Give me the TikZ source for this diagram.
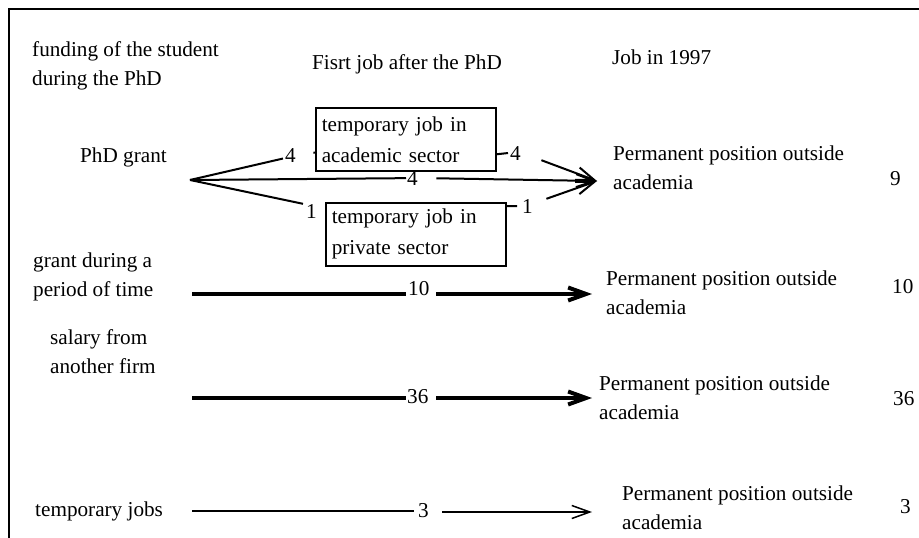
\documentclass[tikz,border=0pt]{standalone}
\usepackage{fontspec}
\setmainfont{Liberation Serif}
\usetikzlibrary{arrows.meta}
\begin{document}
\begin{tikzpicture}[x=1pt,y=-1pt,
  txt/.style={font=\fontsize{21.2}{29}\selectfont, inner sep=0pt, align=left, anchor=base west},
  jobbox/.style={draw, line width=1.6pt, font=\fontsize{21.2}{31}\selectfont,
    minimum width=180pt, minimum height=63pt, text width=168pt, align=left,
    inner xsep=6pt, inner ysep=0pt, anchor=north west},
  lbl/.style={font=\fontsize{21.2}{29}\selectfont, inner sep=0pt, anchor=base west,
    text width=#1, align=left},
  lbl/.default=30pt,
  flow/.style={line width=2pt},
  heavy/.style={line width=4pt},
  light/.style={line width=1.5pt},
  tip/.style={-{Straight Barb[length=18pt,width=13pt]}},
  frame/.style={line width=2pt}
]
\useasboundingbox (0,0) rectangle (919,538);
\coordinate (fa) at (9,538);
\coordinate (fb) at (9,9);
\coordinate (fc) at (919,9);
\draw[frame] (fa) -- (fb) -- (fc);

% headers (base anchor of a two-line node = baseline of its last line)
\node[txt] (h1) at (32,85) {funding of the student\\during the PhD};
\node[txt] (h2) at (312,69) {Fisrt job after the PhD};
\node[txt] (h3) at (612,64) {Job in 1997};

% left labels
\node[txt] (g1) at (80,162) {PhD grant};
\node[txt] (g2) at (33,296) {grant during a\\period of time};
\node[txt] (g3) at (50,373) {salary from\\another firm};
\node[txt] (g4) at (35,516) {temporary jobs};

% boxes
\node[jobbox] (acad) at (315,107) {temporary job in\\academic sector};
\node[jobbox] (priv) at (325,202) {temporary job in\\private sector};

% right side
\node[txt] (p1) at (613,189) {Permanent position outside\\academia};
\node[txt] (p2) at (606,314) {Permanent position outside\\academia};
\node[txt] (p3) at (599,419) {Permanent position outside\\academia};
\node[txt] (p4) at (622,529) {Permanent position outside\\academia};
\node[txt] (c1) at (890,185) {9};
\node[txt] (c2) at (892,293) {10};
\node[txt] (c3) at (893,405) {36};
\node[txt] (c4) at (900,513) {3};

% row 1
\coordinate (O) at (190,180);
\coordinate (T) at (597,181);
\node[lbl=30pt] (u1) at (283,162) {\hspace*{2pt}4};
\node[lbl=33pt] (u2) at (508,160) {\hspace*{2pt}4};
\node[lbl=30pt] (m) at (406,185) {\hspace*{1pt}4};
\node[lbl=21pt] (l1) at (303,218) {\hspace*{3pt}1};
\node[lbl=29pt] (r1) at (517,213) {\hspace*{5pt}1};
\draw[flow] (O) -- (u1);
\draw[flow] (u1) -- (acad);
\draw[flow] ([yshift=-15pt]acad.east) -- (u2.west);
\draw[flow,tip] (u2.south east) -- (T);
\draw[flow] (O) -- (m);
\draw[flow,tip] (m) -- (T);
\draw[flow] (O) -- (l1.north west);
\draw[flow] ([yshift=-4pt]priv.north east) -- (r1.west);
\draw[flow,tip] (r1.north east) -- (T);

% row 2
\coordinate (s2) at (192,294);
\coordinate (e2) at (592,294);
\node[lbl=30pt] (n10) at (406,295) {\hspace*{2pt}10};
\draw[heavy] (s2) -- (s2 -| n10.west);
\draw[heavy,tip] (n10.east |- e2) -- (e2);

% row 3
\coordinate (s3) at (192,398);
\coordinate (e3) at (592,398);
\node[lbl=30pt] (n36) at (406,403) {\hspace*{1pt}36};
\draw[heavy] (s3) -- (s3 -| n36.west);
\draw[heavy,tip] (n36.east |- e3) -- (e3);

% row 4
\coordinate (s4) at (192,511);
\coordinate (e4) at (592,512);
\node[lbl=28pt] (n3) at (414,517) {\hspace*{4pt}3};
\draw[light] (s4) -- (s4 -| n3.west);
\draw[light,tip] (n3.east |- e4) -- (e4);
\end{tikzpicture}
\end{document}
